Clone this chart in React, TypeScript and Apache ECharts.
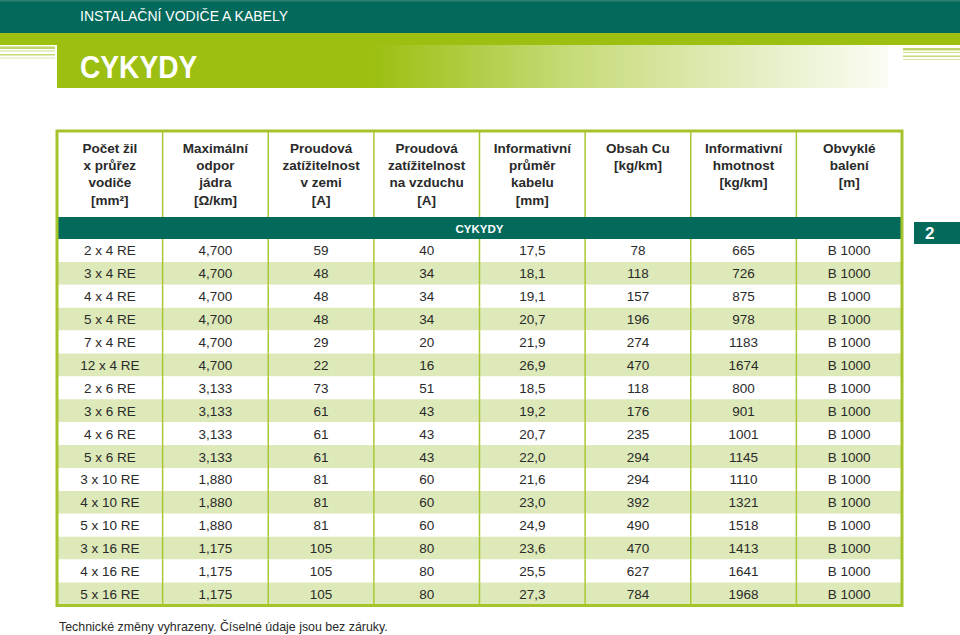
import React, { useEffect, useRef } from "react";
import * as echarts from "echarts";

// ---- data ----
const conductors = ["2 x 4 RE", "3 x 4 RE", "4 x 4 RE", "5 x 4 RE", "7 x 4 RE", "12 x 4 RE", "2 x 6 RE", "3 x 6 RE", "4 x 6 RE", "5 x 6 RE", "3 x 10 RE", "4 x 10 RE", "5 x 10 RE", "3 x 16 RE", "4 x 16 RE", "5 x 16 RE"];
const resistance = ["4,700", "4,700", "4,700", "4,700", "4,700", "4,700", "3,133", "3,133", "3,133", "3,133", "1,880", "1,880", "1,880", "1,175", "1,175", "1,175"];
const currentGround = [59, 48, 48, 48, 29, 22, 73, 61, 61, 61, 81, 81, 81, 105, 105, 105];
const currentAir = [40, 34, 34, 34, 20, 16, 51, 43, 43, 43, 60, 60, 60, 80, 80, 80];
const diameter = ["17,5", "18,1", "19,1", "20,7", "21,9", "26,9", "18,5", "19,2", "20,7", "22,0", "21,6", "23,0", "24,9", "23,6", "25,5", "27,3"];
const copper = [78, 118, 157, 196, 274, 470, 118, 176, 235, 294, 294, 392, 490, 470, 627, 784];
const weight = [665, 726, 875, 978, 1183, 1674, 800, 901, 1001, 1145, 1110, 1321, 1518, 1413, 1641, 1968];
const packaging = ["B 1000", "B 1000", "B 1000", "B 1000", "B 1000", "B 1000", "B 1000", "B 1000", "B 1000", "B 1000", "B 1000", "B 1000", "B 1000", "B 1000", "B 1000", "B 1000"];

const headerLabels = [
  ["Počet žil", "x průřez", "vodiče", "[mm²]"],
  ["Maximální", "odpor", "jádra", "[Ω/km]"],
  ["Proudová", "zatížitelnost", "v zemi", "[A]"],
  ["Proudová", "zatížitelnost", "na vzduchu", "[A]"],
  ["Informativní", "průměr", "kabelu", "[mm]"],
  ["Obsah Cu", "[kg/km]"],
  ["Informativní", "hmotnost", "[kg/km]"],
  ["Obvyklé", "balení", "[m]"],
];
const topTitle = "INSTALAČNÍ VODIČE A KABELY";
const mainTitle = "CYKYDY";
const groupLabel = "CYKYDY";
const pageTab = "2";
const footnote = "Technické změny vyhrazeny. Číselné údaje jsou bez záruky.";

const columns = [conductors, resistance, currentGround, currentAir, diameter, copper, weight, packaging];

// ---- layout / style ----
const TEAL = "#02695b";
const GREEN = "#9cbf12";
const LINE = "#a7c733";
const ALT = "#dde9b9";
const TXT = "#2a2a2a";
const FONT = '"Liberation Sans", Arial, sans-serif';

const T_L = 57;
const T_R = 902;
const H_TOP = 131;
const BAND_TOP = 217;
const BAND_BOT = 239;
const ROW_H = 22.9;
const T_B = BAND_BOT + conductors.length * ROW_H;
const COL_W = (T_R - T_L) / columns.length;

export default function App() {
  const ref = useRef<HTMLDivElement>(null);

  useEffect(() => {
    if (!ref.current) return;
    const chart = echarts.init(ref.current, null, { renderer: "svg" });

    const cells: { col: number; row: number; text: string }[] = [];
    const data: number[][] = [];
    columns.forEach((arr, c) => {
      arr.forEach((v, r) => {
        cells.push({ col: c, row: r, text: String(v) });
        data.push([c, r]);
      });
    });

    const g: any[] = [];
    // top bar
    g.push({ type: "rect", shape: { x: 0, y: 0, width: 960, height: 33 }, style: { fill: TEAL } });
    g.push({ type: "rect", shape: { x: 0, y: 0, width: 960, height: 1.5 }, style: { fill: "#2f8273" } });
    g.push({
      type: "text", x: 80, y: 15.5,
      style: { text: topTitle, fill: "#ffffff", fontSize: 14, fontFamily: FONT, verticalAlign: "middle", align: "left" },
    });
    // green band
    g.push({ type: "rect", shape: { x: 0, y: 33, width: 960, height: 12 }, style: { fill: GREEN } });
    // title box with gradient
    g.push({
      type: "rect", shape: { x: 57, y: 45, width: 831, height: 43 },
      style: {
        fill: new echarts.graphic.LinearGradient(0, 0, 1, 0, [
          { offset: 0, color: GREEN },
          { offset: 0.38, color: GREEN },
          { offset: 0.62, color: "#c6db78" },
          { offset: 0.85, color: "#e6efc6" },
          { offset: 1, color: "#fbfdf4" },
        ]),
      },
    });
    g.push({
      type: "text", x: 80, y: 67, scaleX: 0.88, scaleY: 1,
      style: { text: mainTitle, fill: "#ffffff", fontSize: 32, fontWeight: "bold", fontFamily: FONT, verticalAlign: "middle", align: "left" },
    });
    // stripes
    const stripes = [
      { y: 46.5, h: 2.5, c: "#bfd56c" },
      { y: 50.5, h: 1, c: "#cfe08f" },
      { y: 54, h: 1.5, c: "#c4d979" },
      { y: 57.5, h: 1, c: "#dbe8ab" },
    ];
    stripes.forEach((s) => {
      g.push({ type: "rect", shape: { x: 0, y: s.y, width: 55, height: s.h }, style: { fill: s.c } });
      g.push({ type: "rect", shape: { x: 903, y: s.y + 1.5, width: 57, height: s.h }, style: { fill: s.c } });
    });

    // header cells
    headerLabels.forEach((lines, c) => {
      const cx = T_L + (c + 0.5) * COL_W;
      lines.forEach((ln, k) => {
        g.push({
          type: "text", x: cx, y: 148 + k * 17.4,
          style: { text: ln, fill: TXT, fontSize: 13.5, fontWeight: "bold", fontFamily: FONT, align: "center", verticalAlign: "middle" },
        });
      });
      if (c > 0) {
        const x = T_L + c * COL_W;
        g.push({ type: "line", shape: { x1: x, y1: H_TOP, x2: x, y2: BAND_TOP }, style: { stroke: LINE, lineWidth: 1.5 } });
      }
    });
    // group band
    g.push({ type: "rect", shape: { x: T_L, y: BAND_TOP, width: T_R - T_L, height: BAND_BOT - BAND_TOP }, style: { fill: TEAL }, z: 5 });
    g.push({
      type: "text", x: (T_L + T_R) / 2, y: (BAND_TOP + BAND_BOT) / 2 + 0.5, z: 6,
      style: { text: groupLabel, fill: "#ffffff", fontSize: 11.5, fontWeight: "bold", fontFamily: FONT, align: "center", verticalAlign: "middle" },
    });
    // page tab
    g.push({ type: "rect", shape: { x: 914, y: 222, width: 46, height: 22 }, style: { fill: TEAL } });
    g.push({
      type: "text", x: 925, y: 233.5,
      style: { text: pageTab, fill: "#ffffff", fontSize: 17, fontWeight: "bold", fontFamily: FONT, align: "left", verticalAlign: "middle" },
    });
    // outer border
    g.push({
      type: "rect", z: 20,
      shape: { x: T_L, y: H_TOP, width: T_R - T_L, height: T_B - H_TOP },
      style: { fill: "none", stroke: "#a5c42c", lineWidth: 3 },
    });
    // footnote
    g.push({
      type: "text", x: 59, y: 627,
      style: { text: footnote, fill: TXT, fontSize: 12.4, fontFamily: FONT, align: "left", verticalAlign: "middle" },
    });

    chart.setOption({
      animation: false,
      grid: { left: T_L, top: BAND_BOT, width: T_R - T_L, height: T_B - BAND_BOT, containLabel: false },
      xAxis: { type: "value", min: 0, max: columns.length, show: false },
      yAxis: { type: "category", data: conductors, inverse: true, show: false },
      graphic: { elements: g },
      series: [
        {
          type: "custom",
          clip: false,
          encode: { x: 0, y: 1 },
          data,
          renderItem: (params: any, api: any) => {
            const cell = cells[params.dataIndex];
            const p = api.coord([cell.col, cell.row]);
            const sz = api.size([1, 1]);
            const w = sz[0];
            const h = sz[1];
            const children: any[] = [
              {
                type: "rect",
                shape: { x: p[0], y: p[1] - h / 2, width: w, height: h },
                style: { fill: cell.row % 2 === 1 ? ALT : "#ffffff" },
              },
              {
                type: "text",
                x: p[0] + w / 2,
                y: p[1] + 0.5,
                style: { text: cell.text, fill: TXT, fontSize: 13.5, fontFamily: FONT, align: "center", verticalAlign: "middle" },
              },
            ];
            if (cell.col > 0) {
              children.push({
                type: "line",
                shape: { x1: p[0], y1: p[1] - h / 2, x2: p[0], y2: p[1] + h / 2 },
                style: { stroke: LINE, lineWidth: 1.5 },
              });
            }
            return { type: "group", children };
          },
        },
      ],
    });

    return () => chart.dispose();
  }, []);

  return <div ref={ref} style={{ position: "absolute", left: 0, top: 0, width: 960, height: 635 }} />;
}
